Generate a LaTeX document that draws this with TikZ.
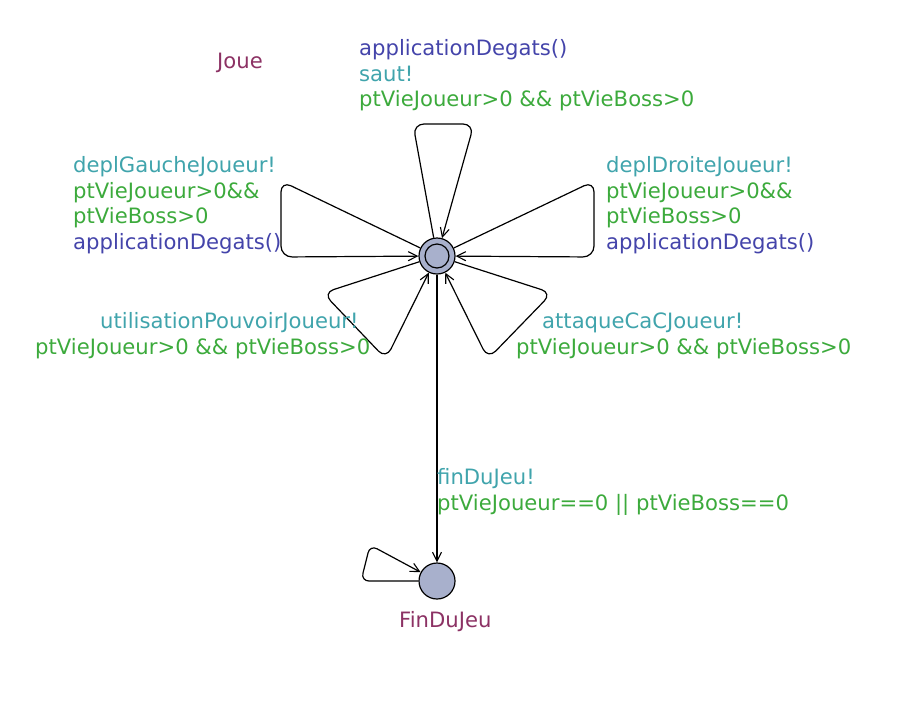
\documentclass[tikz,border=0pt]{standalone}
\usepackage{fontspec}
\setmainfont{DejaVu Sans}
\usetikzlibrary{arrows.meta}
\definecolor{locname}{RGB}{140,50,100}
\definecolor{synccol}{RGB}{64,164,172}
\definecolor{guardcol}{RGB}{60,170,60}
\definecolor{updcol}{RGB}{68,68,170}
\definecolor{locfill}{RGB}{168,176,204}
\begin{document}
\begin{tikzpicture}[x=1pt,y=-1pt,
  loc/.style={circle,draw,line width=1.2pt,fill=locfill,minimum size=36pt,inner sep=0pt},
  edge/.style={draw,line width=1.2pt,-{Straight Barb[length=9pt,width=9pt,line width=1.1pt]},rounded corners=11pt},
  lbl/.style={anchor=base west,inner sep=0pt,font=\fontsize{21.15}{25}\selectfont},
  nm/.style={lbl,text=locname},
  sy/.style={lbl,text=synccol},
  gd/.style={lbl,text=guardcol},
  up/.style={lbl,text=updcol}]
\useasboundingbox (0,0) rectangle (905,702);
% locations
\node[loc] (joue) at (437,256) {};
\draw[line width=1.2pt] (joue.center) circle (12pt);
\node[loc] (fin) at (437,581) {};
\node[nm] (njoue) at (217,68.5) {Joue};
\node[nm] (nfin) at (399,627.5) {FinDuJeu};
% nails
\coordinate (t1) at (413,124);
\coordinate (t2) at (474,124);
\coordinate (l1) at (281,181);
\coordinate (l2) at (281,257);
\coordinate (r1) at (594,181);
\coordinate (r2) at (594,257);
\coordinate (bl1) at (323,293);
\coordinate (bl2) at (386,359);
\coordinate (br1) at (552,293);
\coordinate (br2) at (488,359);
\coordinate (f1) at (361,581);
\coordinate (f2) at (370,545);
% edges
\draw[edge] (joue) -- (t1) -- (t2) -- (joue);
\draw[edge] (joue) -- (l1) -- (l2) -- (joue);
\draw[edge] (joue) -- (r1) -- (r2) -- (joue);
\draw[edge] (joue) -- (bl1) -- (bl2) -- (joue);
\draw[edge] (joue) -- (br1) -- (br2) -- (joue);
\draw[edge] (joue) -- (fin);
\draw[edge,rounded corners=8pt] (fin) -- (f1) -- (f2) -- (fin);
% labels top
\node[up] (tu) at (359,55.5) {applicationDegats()};
\node[sy] (ts) at (359,81) {saut!};
\node[gd] (tg) at (359,106.5) {ptVieJoueur>0 \&\& ptVieBoss>0};
% left
\node[sy] (ls) at (73,172.5) {deplGaucheJoueur!};
\node[gd] (lg1) at (73,198) {ptVieJoueur>0\&\&};
\node[gd] (lg2) at (73,223.5) {ptVieBoss>0};
\node[up] (lu) at (73,249) {applicationDegats()};
% right
\node[sy] (rs) at (606,172.5) {deplDroiteJoueur!};
\node[gd] (rg1) at (606,198) {ptVieJoueur>0\&\&};
\node[gd] (rg2) at (606,223.5) {ptVieBoss>0};
\node[up] (ru) at (606,249) {applicationDegats()};
% bottom left
\node[sy] (bls) at (100,328.5) {utilisationPouvoirJoueur!};
\node[gd] (blg) at (35,354.5) {ptVieJoueur>0 \&\& ptVieBoss>0};
% bottom right
\node[sy] (brs) at (542,328.5) {attaqueCaCJoueur!};
\node[gd] (brg) at (516,354.5) {ptVieJoueur>0 \&\& ptVieBoss>0};
% fin edge
\node[sy] (fs) at (437,484.5) {finDuJeu!};
\node[gd] (fg) at (437,510.5) {ptVieJoueur==0 || ptVieBoss==0};
\end{tikzpicture}
\end{document}
